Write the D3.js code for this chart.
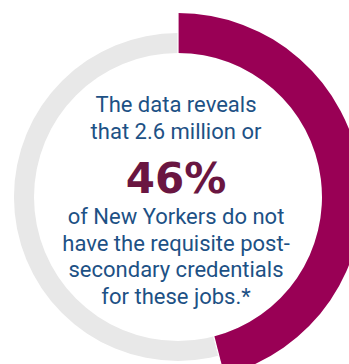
<!DOCTYPE html>
<html>
<head>
<meta charset="utf-8">
<script src="https://cdn.jsdelivr.net/npm/d3@7"></script>
<style>
  html, body { margin: 0; padding: 0; background: #fff; overflow: hidden; }
  svg { display: block; }
  .copy { font-family: Roboto, "Noto Sans", sans-serif; fill: #1d5185; }
  .big { font-family: "DejaVu Sans", Roboto, sans-serif; font-weight: bold; fill: #6a1641; }
</style>
</head>
<body>
<div id="chart"></div>
<script>
// share of New Yorkers without the credentials
const shareLabels = ["Lacking credentials", "Rest"];
const shareValues = [46, 54];

// text in the middle of the ring
const introLines = ["The data reveals", "that 2.6 million or"];
const bigLabel = "46%";
const outroLines = ["of New Yorkers do not", "have the requisite post-", "secondary credentials", "for these jobs.*"];

const width = 349;
const height = 364;
const cx = 178, cy = 197;

const svg = d3.select("#chart")
  .append("svg")
  .attr("width", width)
  .attr("height", height);

const g = svg.append("g").attr("transform", `translate(${cx},${cy})`);

// gray track behind everything
g.append("path")
  .attr("d", d3.arc().innerRadius(144).outerRadius(164).startAngle(0).endAngle(2 * Math.PI)())
  .attr("fill", "#e8e8e8");

const pie = d3.pie().sort(null).value(d => d);
const arcs = pie(shareValues);

// highlighted slice is drawn thicker
g.append("path")
  .attr("d", d3.arc().innerRadius(144).outerRadius(184)(arcs[0]))
  .attr("fill", "#990055");

// thin white gaps where the slice meets the track
const gap = d3.scaleLinear().domain([0, 100]).range([0, 2 * Math.PI]);
[0, shareValues[0]].forEach(v => {
  const a = gap(v);
  g.append("line")
    .attr("x1", Math.sin(a) * 143).attr("y1", -Math.cos(a) * 143)
    .attr("x2", Math.sin(a) * 186).attr("y2", -Math.cos(a) * 186)
    .attr("stroke", "#fff")
    .attr("stroke-width", 1.2);
});

// center copy
const tx = -2;
g.selectAll("text.intro")
  .data(introLines)
  .enter().append("text")
  .attr("class", "copy intro")
  .attr("x", tx)
  .attr("y", (d, i) => -85 + i * 27)
  .attr("text-anchor", "middle")
  .style("font-size", "22px")
  .text(d => d);

g.append("text")
  .attr("class", "big")
  .attr("x", tx)
  .attr("y", -4)
  .attr("text-anchor", "middle")
  .style("font-size", "42px")
  .text(bigLabel);

g.selectAll("text.outro")
  .data(outroLines)
  .enter().append("text")
  .attr("class", "copy outro")
  .attr("x", tx)
  .attr("y", (d, i) => 27 + i * 26.6)
  .attr("text-anchor", "middle")
  .style("font-size", "22px")
  .text(d => d);
</script>
</body>
</html>
